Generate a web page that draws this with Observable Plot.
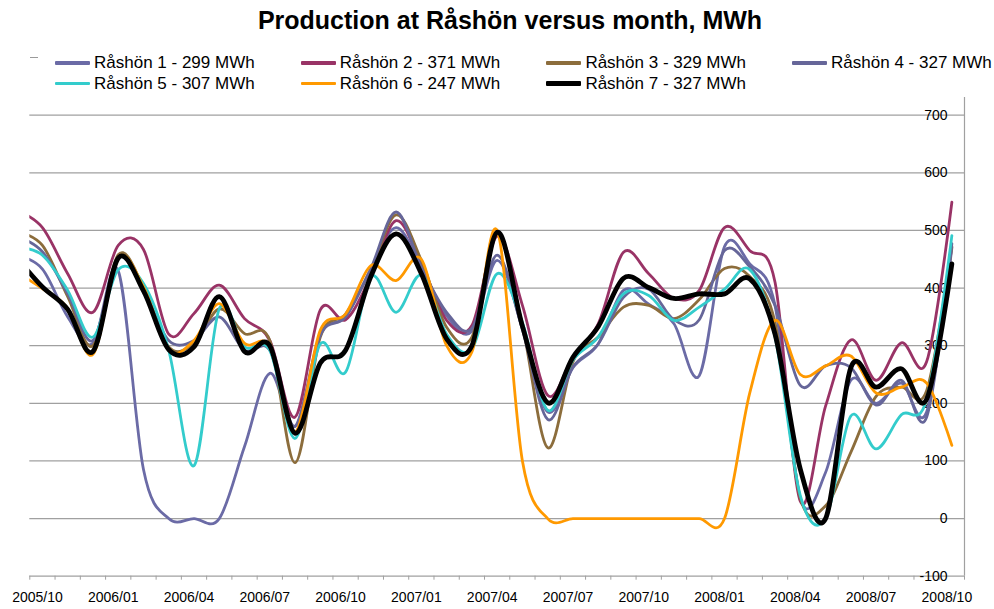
<!DOCTYPE html>
<html>
<head>
<meta charset="utf-8">
<script src="https://cdn.jsdelivr.net/npm/d3@7"></script>
<script src="https://cdn.jsdelivr.net/npm/@observablehq/plot@0.6"></script>
<style>
  html, body { margin: 0; padding: 0; background: #fff; }
  body { font-family: "Liberation Sans", Arial, sans-serif; color: #000; }
  #wrap { position: relative; width: 994px; height: 609px; overflow: hidden; }
  #header { position: relative; width: 994px; height: 97px; }
  #title { position: absolute; left: 0; width: 1020px; top: 5px; text-align: center;
           font-weight: bold; font-size: 25px; line-height: 30px; white-space: nowrap; }
  .lg { position: absolute; height: 20px; line-height: 20px; font-size: 17px; white-space: nowrap; }
  .sw { position: absolute; top: 50%; width: 35px; border-radius: 1px; }
  .lt { position: absolute; left: 39px; top: 0; }
  #dash { position: absolute; left: 30px; top: 57px; width: 8px; height: 1px; background: #9a9a9a; }
</style>
</head>
<body>
<div id="wrap">
  <div id="header">
    <div id="title">Production at Råshön versus month, MWh</div>
    <div id="dash"></div>
  </div>
  <div id="chart"></div>
</div>
<script>
// ---- data (index 0 = 2005/09, clipped at the left edge; index 37 = 2008/10) ----
const months = ["2005/09","2005/10","2005/11","2005/12","2006/01","2006/02","2006/03","2006/04","2006/05","2006/06",
  "2006/07","2006/08","2006/09","2006/10","2006/11","2006/12","2007/01","2007/02","2007/03","2007/04",
  "2007/05","2007/06","2007/07","2007/08","2007/09","2007/10","2007/11","2007/12","2008/01","2008/02",
  "2008/03","2008/04","2008/05","2008/06","2008/07","2008/08","2008/09","2008/10"];
const tickLabels = ["2005/10","2006/01","2006/04","2006/07","2006/10","2007/01","2007/04",
  "2007/07","2007/10","2008/01","2008/04","2008/07","2008/10"];
const yTicks = [-100, 0, 100, 200, 300, 400, 500, 600, 700];
const names = ["Råshön 1 - 299 MWh","Råshön 2 - 371 MWh","Råshön 3 - 329 MWh","Råshön 4 - 327 MWh",
  "Råshön 5 - 307 MWh","Råshön 6 - 247 MWh","Råshön 7 - 327 MWh"];
const colors = ["#6b6ba6","#993366","#8c6d3c","#666699","#33cccc","#ff9900","#000000"];

const s1 = [457,433,350,304,430,85,0,0,0,125,252,160,320,350,432,505,436,352,325,448,330,185,262,303,396,372,338,248,472,442,370,35,80,240,200,235,185,470];
const s2 = [535,505,425,358,474,467,320,356,405,347,309,176,362,345,420,517,442,344,335,490,370,214,280,338,462,425,382,396,505,465,410,30,195,310,240,305,272,549];
const s3 = [498,474,385,300,458,402,298,304,364,321,309,97,315,355,431,527,448,332,315,494,335,123,272,315,367,370,347,380,434,420,340,36,22,115,212,228,222,472];
const s4 = [490,463,390,309,452,396,309,309,350,292,292,160,318,350,434,532,436,358,330,457,328,172,263,303,384,398,345,345,465,437,370,231,265,262,197,240,176,477];
const s5 = [471,457,396,315,432,408,292,92,364,298,292,139,303,254,419,358,422,320,294,425,340,188,275,315,390,387,344,367,398,432,315,40,0,178,121,180,207,491];
const s6 = [427,399,365,285,452,402,292,309,373,304,298,150,327,355,439,413,450,300,289,500,100,0,0,0,0,0,0,0,0,218,344,250,265,282,218,228,235,127];
const s7 = [452,402,363,290,452,395,293,298,385,290,300,148,270,292,420,494,425,312,300,497,334,201,280,333,417,401,382,390,390,416,320,86,0,262,228,260,207,442];
const series = [s1, s2, s3, s4, s5, s6, s7];

// ---- legend ----
const header = document.getElementById("header");
names.forEach((name, k) => {
  const col = k % 4, row = Math.floor(k / 4);
  const item = document.createElement("div");
  item.className = "lg";
  item.style.left = (55 + col * 245.7) + "px";
  item.style.top = (53 + row * 20.5) + "px";
  const sw = document.createElement("div");
  sw.className = "sw";
  const h = k === 6 ? 5 : 3.5;
  sw.style.height = h + "px";
  sw.style.marginTop = (-h / 2) + "px";
  sw.style.background = colors[k];
  const t = document.createElement("div");
  t.className = "lt";
  t.textContent = name;
  item.appendChild(sw);
  item.appendChild(t);
  header.appendChild(item);
});

// ---- chart ----
const boundaries = d3.range(0.5, 38, 1);
const labelPos = tickLabels.map(l => months.indexOf(l));
const lineMarks = series.map((vals, k) =>
  Plot.line(vals.map((v, i) => ({m: i, v})), {
    x: "m", y: "v", curve: "cardinal", clip: true,
    stroke: colors[k], strokeWidth: k === 6 ? 4.8 : 2.8,
    strokeLinejoin: "round", strokeLinecap: "round"
  })
);

const plot = Plot.plot({
  width: 994, height: 512,
  marginLeft: 29.3, marginRight: 30, marginTop: 0, marginBottom: 33.3,
  x: {type: "linear", domain: [0.5, 37.5], label: null},
  y: {domain: [-100, 730.7], label: null},
  style: {fontFamily: "'Liberation Sans', Arial, sans-serif", fontSize: "14px", color: "#000", background: "#fff", overflow: "visible"},
  marks: [
    Plot.ruleY(yTicks, {stroke: "#a0a0a0", strokeWidth: 1.2}),
    Plot.ruleX([37.5], {stroke: "#a0a0a0", strokeWidth: 1.2}),
    Plot.axisX(boundaries, {tickSize: 4, tickFormat: () => "", label: null, stroke: "#a0a0a0", strokeOpacity: 1}),
    Plot.axisX(labelPos, {tickSize: 0, tickPadding: 16, label: null, tickFormat: i => months[i], dx: -5, fill: "#000"}),
    Plot.axisY(yTicks, {anchor: "right", tickSize: 0, tickPadding: 3, label: null, textAnchor: "end", dx: -20, tickFormat: d => String(d), fill: "#000"}),
    ...lineMarks
  ]
});
document.getElementById("chart").appendChild(plot);
</script>
</body>
</html>
